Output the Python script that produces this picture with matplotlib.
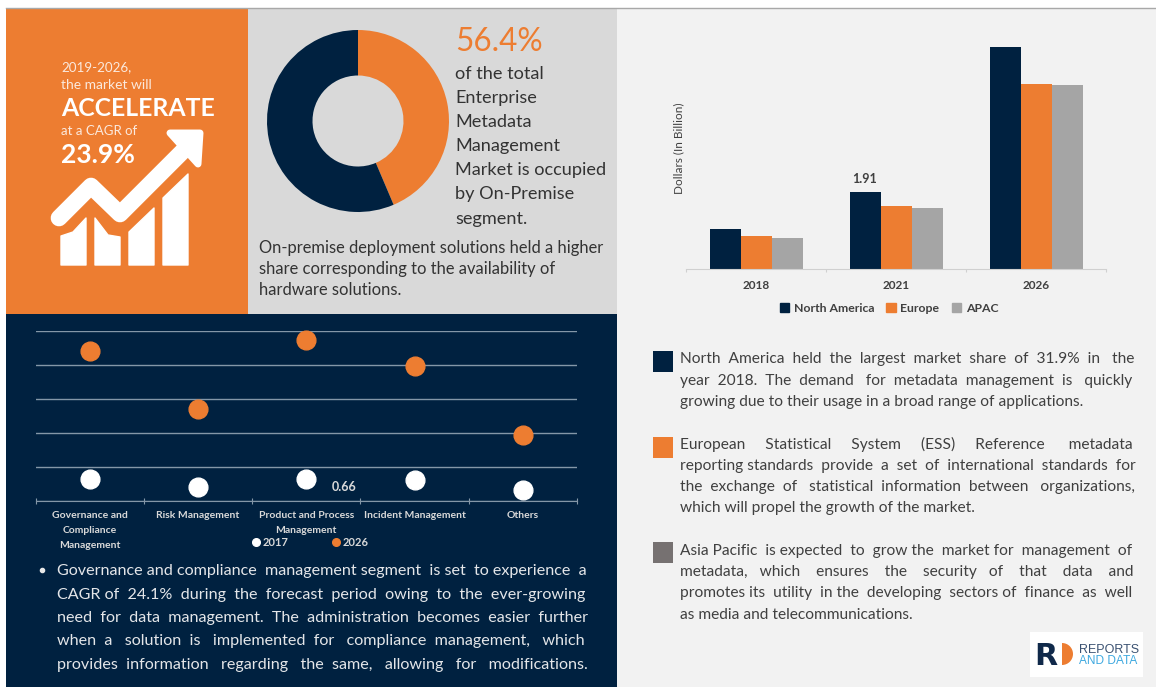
import matplotlib
matplotlib.use("Agg")
import matplotlib.pyplot as plt
from matplotlib.lines import Line2D
from matplotlib.patches import Patch, Polygon, Rectangle, Wedge

plt.rcParams["font.family"] = ["Lato", "DejaVu Sans"]

# Donut: deployment share
donut_shares = [43.6, 56.4]

# Dot plot: software segments, 2017 vs 2026
segments = ["Governance and\nCompliance\nManagement", "Risk Management",
            "Product and Process\nManagement", "Incident Management", "Others"]
segment_2017 = [0.65, 0.41, 0.66, 0.62, 0.32]
segment_2026 = [4.41, 2.71, 4.74, 3.97, 1.94]

# Bars: regional market size
years = ["2018", "2021", "2026"]
north_america = [0.995, 1.91, 5.49]
europe = [0.82, 1.57, 4.57]
apac = [0.765, 1.51, 4.54]

# Copy blocks
orange_lines = ["of the total", "Enterprise", "Metadata", "Management",
                "Market is occupied", "by On-Premise", "segment."]
premise_lines = ["On-premise deployment solutions held a higher",
                 "share corresponding to the availability of",
                 "hardware solutions."]
bullet_lines = ["Governance and compliance management segment is set to experience a",
                "CAGR of 24.1% during the forecast period owing to the ever-growing",
                "need for data management. The administration becomes easier further",
                "when a solution is implemented for compliance management, which",
                "provides information regarding the same, allowing for modifications."]
region_paragraphs = [
    ["North America held the largest market share of 31.9% in the",
     "year 2018. The demand for metadata management is quickly",
     "growing due to their usage in a broad range of applications."],
    ["European Statistical System (ESS) Reference metadata",
     "reporting standards provide a set of international standards for",
     "the exchange of statistical information between organizations,",
     "which will propel the growth of the market."],
    ["Asia Pacific is expected to grow the market for management of",
     "metadata, which ensures the security of that data and",
     "promotes its utility in the developing sectors of finance as well",
     "as media and telecommunications."],
]

NAVY = "#002140"
ORANGE = "#ED7D31"
GREY = "#A5A5A5"
W, H = 1156, 687

fig = plt.figure(figsize=(W / 100, H / 100), dpi=100, facecolor="white")
renderer = fig.canvas.get_renderer()


def px_axes(x0, y0, x1, y1):
    ax = fig.add_axes([x0 / W, 1 - y1 / H, (x1 - x0) / W, (y1 - y0) / H])
    ax.patch.set_visible(False)
    return ax


page = px_axes(0, 0, W, H)
page.set_xlim(0, W)
page.set_ylim(H, 0)
page.axis("off")


def panel(x0, y0, x1, y1, color):
    page.add_patch(Rectangle((x0, y0), x1 - x0, y1 - y0, fc=color, ec="none"))


panel(6, 8, 248, 314, ORANGE)
panel(248, 8, 617, 314, "#D9D9D9")
panel(6, 314, 617, 687, NAVY)
panel(617, 8, W, 687, "#F2F2F2")
page.plot([6, W], [8, 8], color="#A8A8A8", lw=1)


def put(x, y, s, size, color, **kw):
    return page.text(x, y, s, fontsize=size, color=color, va="baseline", **kw)


def justified(x0, x1, y, line, size, color):
    """One line of text, widened to x1 by padding its word gaps with spaces."""
    words = line.split(" ")
    t = put(x0, y, line, size, color)
    width = t.get_window_extent(renderer).width
    t.set_text(line + " |")
    w_with = t.get_window_extent(renderer).width
    t.set_text(line + "  |")
    space = t.get_window_extent(renderer).width - w_with
    extra = max(0, round((x1 - x0 - width) / space))
    gaps = len(words) - 1
    out = words[0]
    for i, word in enumerate(words[1:]):
        n = 1 + (extra * (i + 1)) // gaps - (extra * i) // gaps
        out += " " * n + word
    t.set_text(out)


# Growth headline
put(61, 71, "2019-2026,", 9.6, "#FBE9DD")
put(61, 89, "the market will", 10, "#FBE9DD")
put(61, 116, "ACCELERATE", 17.8, "white", fontweight="bold")
put(61, 135, "at a CAGR of", 9.5, "#FBE9DD")
put(61, 163, "23.9%", 19, "white", fontweight="bold")

# Rising-market icon
for pts in ([(61, 265), (86, 265), (86, 218), (73, 232), (61, 236)],
            [(95, 265), (120, 265), (120, 237), (108, 235), (95, 218)],
            [(129, 265), (154, 265), (154, 208), (129, 232)],
            [(163, 265), (188, 265), (188, 174), (163, 198)]):
    page.add_patch(Polygon(pts, closed=True, fc="white", ec="white", lw=1, joinstyle="round"))
page.plot([59, 91, 120, 186], [218, 186, 214, 148], color="white", lw=12,
          solid_capstyle="round", solid_joinstyle="round")
page.add_patch(Polygon([(170, 133), (200, 133), (198, 164)], closed=True, fc="white",
                       ec="white", lw=5, joinstyle="round"))

# Donut
donut = px_axes(267, 30, 449, 212)
donut.pie(donut_shares, colors=[ORANGE, NAVY], startangle=90, counterclock=False,
          radius=1, wedgeprops={"width": 0.5})
donut.set_xlim(-1, 1)
donut.set_ylim(-1, 1)

put(455, 51, "56.4%", 22.7, ORANGE)
for y, line in zip([79, 103, 127, 151, 175, 199, 224], orange_lines):
    put(455, y, line, 13.1, "#333333")
for y, line in zip([253, 274, 295], premise_lines):
    put(259, y, line, 11.9, "#333333")

# Segment dot plot
dots = px_axes(35.6, 331, 577, 501)
xs = range(len(segments))
dots.plot(xs, segment_2017, ls="none", marker="o", ms=13.5, mfc="white", mec="white", clip_on=False)
dots.plot(xs, segment_2026, ls="none", marker="o", ms=13.5, mfc=ORANGE, mec=ORANGE, clip_on=False)
dots.set_xlim(-0.5, 4.5)
dots.set_ylim(0, 5)
dots.set_yticks(range(6))
dots.tick_params(axis="y", length=0, labelleft=False)
dots.grid(axis="y", color="#8497A8", lw=1)
dots.set_axisbelow(True)
for side in ("top", "left", "right"):
    dots.spines[side].set_visible(False)
dots.spines["bottom"].set_color("#8497A8")
dots.set_xticks([i - 0.5 for i in range(6)])
dots.tick_params(axis="x", which="major", direction="inout", length=4, color="#8497A8", labelbottom=False)
dots.set_xticks(list(xs), minor=True)
dots.set_xticklabels(segments, minor=True, fontsize=7.5, fontweight="bold", color="#D9D9D9", linespacing=1.85)
dots.tick_params(axis="x", which="minor", length=0, pad=7)
dots.annotate(f"{segment_2017[2]:.2f}", (2, segment_2017[2]), xytext=(27, -6),
              textcoords="offset points", ha="center", va="center", fontsize=9,
              fontweight="bold", color="#D9D9D9")
fig.legend(handles=[Line2D([], [], ls="none", marker="o", ms=5.5, color="white", label="2017"),
                    Line2D([], [], ls="none", marker="o", ms=5.5, color=ORANGE, label="2026")],
           loc="center", bbox_to_anchor=(309 / W, 1 - 542 / H), ncol=2, frameon=False,
           labelcolor="#D9D9D9", handletextpad=0.0, columnspacing=3.7,
           handlelength=1.2, prop={"size": 8, "weight": "bold"})

page.plot([42], [570], ls="none", marker="o", ms=3, color="#E8E8E8")
for y, line in zip([575, 599, 622, 645, 669], bullet_lines):
    justified(57, 586, y, line, 11.6, "#E4E6E9")

# Regional bars
bars = px_axes(686, 30, 1106, 269.3)
bw = 31 / 140
for offset, vals, color, name in ((-bw, north_america, NAVY, "North America"),
                                  (0, europe, ORANGE, "Europe"),
                                  (bw, apac, GREY, "APAC")):
    bars.bar([i + offset for i in range(3)], vals, bw, color=color, label=name)
bars.set_xlim(-0.5, 2.5)
bars.set_ylim(0, 239.3 / 40.5)
bars.set_yticks([])
for side in ("top", "left", "right"):
    bars.spines[side].set_visible(False)
bars.spines["bottom"].set_color("#D0D0D0")
bars.set_xticks([-0.5, 0.5, 1.5, 2.5])
bars.tick_params(axis="x", which="major", length=2, color="#D0D0D0", labelbottom=False)
bars.set_xticks(range(3), minor=True)
bars.set_xticklabels(years, minor=True, fontsize=8.5, fontweight="bold", color="#404040")
bars.tick_params(axis="x", which="minor", length=0, pad=7.5)
bars.set_ylabel("Dollars (In Billion)", fontsize=8.5, color="#404040")
bars.yaxis.set_label_coords(-0.005, 0.507)
bars.annotate(f"{north_america[1]:.2f}", (1 - bw, north_america[1]), xytext=(0, 9),
              textcoords="offset points", ha="center", va="center", fontsize=9,
              fontweight="bold", color="#404040")
bars.legend(handles=[Patch(color=NAVY, label="North America"), Patch(color=ORANGE, label="Europe"),
                     Patch(color=GREY, label="APAC")],
            loc="center", bbox_to_anchor=(889 / W, 1 - 308 / H), bbox_transform=fig.transFigure,
            ncol=3, frameon=False, prop={"size": 8.8, "weight": "bold"}, labelcolor="#404040",
            handlelength=0.8, handleheight=0.8, handletextpad=0.35, columnspacing=1.0)

# Regional commentary
for (y0, color), para, ys in zip(
        [(351, NAVY), (437, ORANGE), (542, "#767171")], region_paragraphs,
        [[363, 385, 406], [449, 470, 491, 512], [555, 576, 597, 619]]):
    page.add_patch(Rectangle((653, y0), 20, 21, fc=color, ec="none"))
    for i, (y, line) in enumerate(zip(ys, para)):
        if i == len(para) - 1:
            put(680, y, line, 11.2, "#404040")
        else:
            justified(680, 1134, y, line, 11.2, "#404040")

# Publisher mark
panel(1030, 632, 1143, 677, "white")
put(1034, 665, "R", 21.7, "#10294A", fontweight="bold", family="DejaVu Sans")
page.add_patch(Wedge((1062, 654), 11, -90, 90, fc=ORANGE, ec="none"))
put(1079, 653, "REPORTS", 9, "#3B5272", family="Liberation Sans")
put(1079, 664, "AND DATA", 8.6, "#3FA9E0", family="Liberation Sans")

fig.savefig("out.png", dpi=100, facecolor="white")
